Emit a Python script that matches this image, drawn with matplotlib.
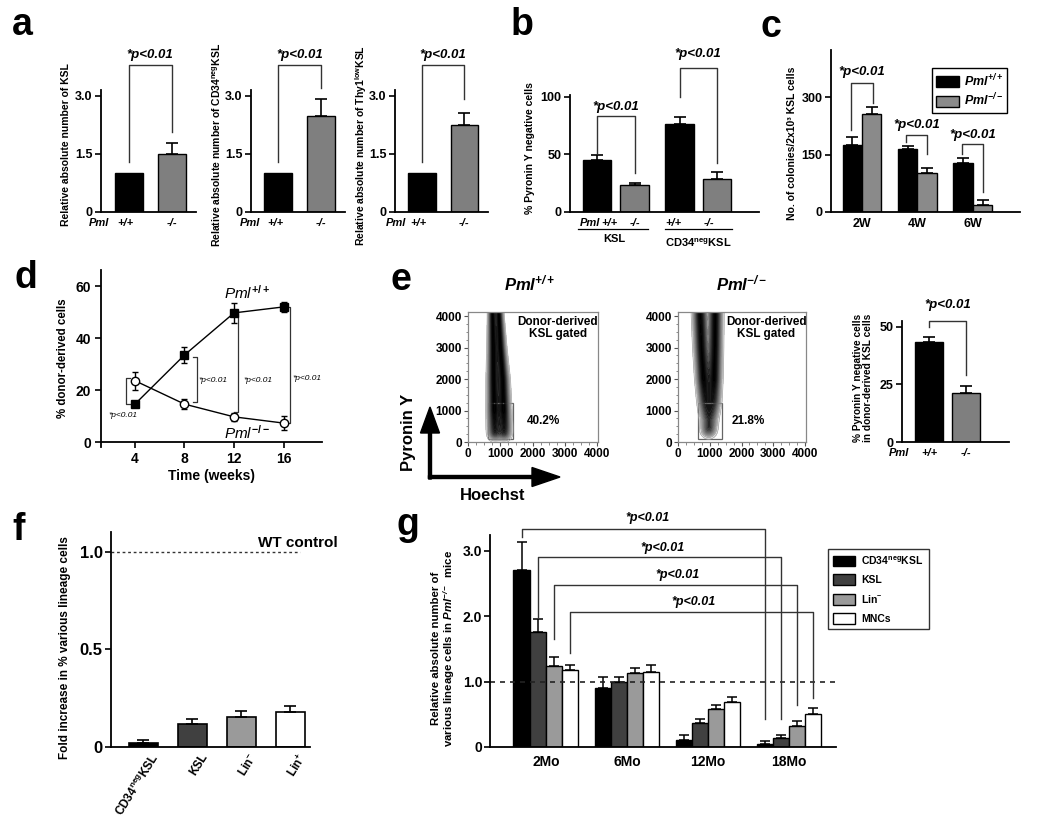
import numpy as np
import matplotlib.pyplot as plt
from matplotlib.patches import Patch, Rectangle, FancyArrow
from matplotlib.colors import LinearSegmentedColormap
from matplotlib.ticker import MultipleLocator

plt.rcParams['font.family'] = ['Liberation Sans', 'DejaVu Sans']
plt.rcParams['font.weight'] = 'bold'
plt.rcParams['mathtext.fontset'] = 'custom'
plt.rcParams['mathtext.rm'] = 'Liberation Sans:bold'
plt.rcParams['mathtext.it'] = 'Liberation Sans:italic:normal'
plt.rcParams['mathtext.bf'] = 'Liberation Sans:bold'
plt.rcParams['mathtext.bfit'] = 'Liberation Sans:italic:bold'
plt.rcParams['axes.linewidth'] = 1.3

# ---- data ----
# a
a_ylabels = ['Relative absolute number of KSL',
             r'Relative absolute number of CD34$^{\mathbf{neg}}$KSL',
             r'Relative absolute number of Thy1$^{\mathbf{low}}$KSL']
a_wt = [1.0, 1.0, 1.0]
a_ko = [1.5, 2.48, 2.25]
a_ko_err = [0.28, 0.45, 0.30]

# b
b_vals = [45.5, 23.5, 76.5, 29.0]
b_err = [3.7, 2.0, 6.5, 6.0]
b_groups = ['KSL', r'CD34$^{\mathbf{neg}}$KSL']

# c
c_weeks = ['2W', '4W', '6W']
c_wt = [176, 165, 128]
c_wt_err = [19, 7, 12]
c_ko = [256, 101, 19]
c_ko_err = [17, 15, 12]

# d
d_weeks = [4, 8, 12, 16]
d_wt = [14.6, 33.5, 49.7, 52.0]
d_wt_err = [1.0, 3.2, 3.9, 2.0]
d_ko = [23.6, 14.6, 9.7, 7.3]
d_ko_err = [3.4, 2.0, 1.5, 2.7]

# e (flow ridges: pyronin level, hoechst centre of the two dense streaks, spread)
wt_pyr = [150, 500, 1000, 2000, 3000, 4000, 4600]
wt_left = [830, 820, 810, 790, 780, 760, 750]
wt_right = [1130, 1130, 1110, 1080, 1010, 960, 940]
wt_sd = [120, 115, 110, 100, 85, 70, 65]
wt_amp = [0.75, 0.85, 1.0, 1.0, 1.0, 1.0, 1.0]
ko_pyr = [250, 700, 1300, 2000, 3000, 4000, 4600]
ko_left = [930, 900, 850, 800, 740, 700, 690]
ko_right = [1000, 1060, 1120, 1140, 1160, 1170, 1170]
ko_sd = [130, 120, 120, 120, 120, 120, 120]
ko_amp = [0.35, 0.4, 0.75, 1.0, 1.0, 1.0, 1.0]
e_gate = [620, 100, 1400, 1230]
e_pct = ['40.2%', '21.8%']
e_vals = [43.6, 21.2]
e_err = [2.2, 3.1]

# f
f_cats = [r'CD34$^{\mathbf{neg}}$KSL', 'KSL', r'Lin$^{\mathbf{-}}$', r'Lin$^{\mathbf{+}}$']
f_vals = [0.022, 0.12, 0.154, 0.178]
f_err = [0.014, 0.023, 0.031, 0.032]

# g
g_groups = ['2Mo', '6Mo', '12Mo', '18Mo']
g_series = [r'CD34$^{\mathbf{neg}}$KSL', 'KSL', r'Lin$^{\mathbf{-}}$', 'MNCs']
g_vals = [[2.70, 0.90, 0.11, 0.05],
          [1.75, 1.00, 0.37, 0.13],
          [1.24, 1.13, 0.58, 0.32],
          [1.18, 1.15, 0.69, 0.50]]
g_err = [[0.44, 0.17, 0.07, 0.04],
         [0.21, 0.07, 0.06, 0.06],
         [0.14, 0.08, 0.06, 0.07],
         [0.07, 0.10, 0.07, 0.09]]
g_colors = ['#000000', '#404040', '#9a9a9a', '#ffffff']

PV = '*p<0.01'

W, H = 1050, 822
fig = plt.figure(figsize=(W / 100, H / 100), dpi=100)


def box(x0, y0, x1, y1):
    return [x0 / W, 1 - y1 / H, (x1 - x0) / W, (y1 - y0) / H]


def bar_axes(rect, xlim, ylim, labelsize=9):
    ax = fig.add_axes(box(*rect))
    ax.set_xlim(*xlim)
    ax.set_ylim(*ylim)
    ax.spines[['top', 'right']].set_visible(False)
    ax.tick_params(axis='y', direction='out', length=4, width=1.2,
                   labelsize=labelsize, pad=2)
    ax.tick_params(axis='x', length=0)
    ax.set_xticks([])
    return ax


def ylabel_px(ax, text, x, y, size):
    ax.set_ylabel(text, fontsize=size, fontweight='bold', linespacing=1.1)
    ax.yaxis.label.set_va('center')
    ax.yaxis.set_label_coords(x / W, 1 - y / H, transform=fig.transFigure)


def under(ax, x, text, dy, size=8, style='italic'):
    ax.annotate(text, xy=(x, 0), xycoords=('data', 'axes fraction'),
                xytext=(0, -dy), textcoords='offset pixels', ha='center',
                va='center', fontsize=size, fontstyle=style, fontweight='bold')


def bracket(ax, x1, x2, y1, ytop, y2, ty, size=9.5):
    ax.plot([x1, x1, x2, x2], [y1, ytop, ytop, y2], color='#333333', lw=1.0,
            clip_on=False)
    ax.text((x1 + x2) / 2, ty, PV, ha='center', va='center', fontsize=size,
            fontstyle='italic', fontweight='bold', clip_on=False)


# ---- a ----
a_rects = [(101, 90, 196, 212), (251, 90, 345, 212), (395, 90, 488, 212)]
a_ylab_x = [66, 217, 361]
a_pml_x = [-0.68, -0.66, -0.62]
a_right_leg = [2.07, 3.2, 2.92]
for i in range(3):
    ax = bar_axes(a_rects[i], (-0.64, 1.56), (0, 3.15))
    ax.bar([0, 1], [a_wt[i], a_ko[i]], width=0.65, color=['black', '#7f7f7f'],
           edgecolor='black', lw=1)
    ax.errorbar([1], [a_ko[i]], yerr=[[0], [a_ko_err[i]]], fmt='none',
                ecolor='black', elinewidth=1.2, capsize=4.5, capthick=1.2)
    ax.set_yticks([0, 1.5, 3.0], ['0', '1.5', '3.0'])
    ylabel_px(ax, a_ylabels[i], a_ylab_x[i], 145, 7.5)
    under(ax, a_pml_x[i], 'Pml', 11)
    under(ax, -0.08, '+/+', 11)
    under(ax, 1.0, '-/-', 11)
    bracket(ax, 0, 1, 1.29, 3.80, a_right_leg[i], 4.06)

# ---- b ----
axb = bar_axes((570, 95, 759, 212), (-0.72, 4.32), (0, 101.7))
b_pos = [0, 1, 2.2, 3.2]
axb.bar(b_pos, b_vals, width=0.75, color=['black', '#7f7f7f'] * 2,
        edgecolor='black', lw=1)
axb.errorbar(b_pos, b_vals, yerr=[[0] * 4, b_err], fmt='none', ecolor='black',
             elinewidth=1.2, capsize=4.5, capthick=1.2)
axb.set_yticks([0, 50, 100], ['0', '50', '100'])
ylabel_px(axb, '% Pyronin Y negative cells', 530, 148, 7.5)
under(axb, -0.2, 'Pml', 11)
for x, t in [(0.33, '+/+'), (1.0, '-/-'), (2.05, '+/+'), (3.0, '-/-')]:
    under(axb, x, t, 11)
tr = axb.get_xaxis_transform()
axb.plot([-0.5, 1.35], [-0.145, -0.145], color='black', lw=0.9, transform=tr,
         clip_on=False)
axb.plot([1.8, 3.6], [-0.145, -0.145], color='black', lw=0.9, transform=tr,
         clip_on=False)
under(axb, 0.45, b_groups[0], 27, size=8, style='normal')
under(axb, 2.7, b_groups[1], 31, size=8, style='normal')
bracket(axb, 0, 1, 51, 83.5, 34, 91.5)
bracket(axb, 2.2, 3.2, 100, 125, 42.6, 137)

# ---- c ----
axc = bar_axes((831, 50, 1020, 212), (-0.56, 2.85), (0, 423))
cx = np.arange(len(c_weeks))
axc.bar(cx - 0.175, c_wt, width=0.35, color='black', edgecolor='black', lw=1)
axc.bar(cx + 0.175, c_ko, width=0.35, color='#8a8a8a', edgecolor='black', lw=1)
axc.errorbar(cx - 0.175, c_wt, yerr=[[0] * 3, c_wt_err], fmt='none',
             ecolor='black', elinewidth=1.2, capsize=4, capthick=1.2)
axc.errorbar(cx + 0.175, c_ko, yerr=[[0] * 3, c_ko_err], fmt='none',
             ecolor='black', elinewidth=1.2, capsize=4, capthick=1.2)
axc.set_yticks([0, 150, 300], ['0', '150', '300'])
axc.set_xticks(cx, c_weeks, fontsize=9, fontweight='bold')
axc.tick_params(axis='x', pad=4)
ylabel_px(axc, 'No. of colonies/2x10³ KSL cells', 792, 143, 7.5)
bracket(axc, -0.2, 0.2, 214, 337, 284, 365)
bracket(axc, 0.8, 1.18, 183, 201, 151, 228)
bracket(axc, 1.8, 2.18, 151, 177, 52, 202)
axc.legend(handles=[Patch(facecolor='black', edgecolor='black'),
                    Patch(facecolor='#8a8a8a', edgecolor='black')],
           labels=[r'$\mathbfit{Pml^{+/+}}$', r'$\mathbfit{Pml^{-/-}}$'],
           loc='upper left', bbox_to_anchor=(932 / W, 1 - 68 / H),
           bbox_transform=fig.transFigure, fontsize=9, frameon=True,
           fancybox=False, edgecolor='black', framealpha=1, borderpad=0.35,
           labelspacing=0.25, handlelength=1.8, handleheight=0.9,
           handletextpad=0.4, borderaxespad=0)

# ---- d ----
axd = fig.add_axes(box(101, 270, 322, 447))
axd.set_xlim(1.26, 19.1)
axd.set_ylim(-1.9, 66.2)
axd.spines[['top', 'right']].set_visible(False)
axd.spines['bottom'].set_position(('data', 0))
axd.set_xticks(d_weeks, [str(w) for w in d_weeks])
axd.set_yticks([0, 20, 40, 60])
axd.tick_params(direction='out', length=4, width=1.2, labelsize=10, pad=3)
axd.plot(d_weeks, d_wt, color='black', lw=1, marker='s', ms=6, mfc='black',
         mec='black', zorder=3)
axd.plot(d_weeks, d_ko, color='black', lw=1, marker='o', ms=6, mfc='white',
         mec='black', zorder=3)
axd.errorbar(d_weeks, d_wt, yerr=d_wt_err, fmt='none', ecolor='black',
             elinewidth=1, capsize=2.5, zorder=2)
axd.errorbar(d_weeks, d_ko, yerr=d_ko_err, fmt='none', ecolor='black',
             elinewidth=1, capsize=2.5, zorder=2)
axd.set_xlabel('Time (weeks)', fontsize=10, fontweight='bold', labelpad=2)
ylabel_px(axd, '% donor-derived cells', 63, 358, 8.3)
axd.text(13.03, 57.3, r'$\mathit{Pml^{+/+}}$', fontsize=11, ha='center',
         va='center')
axd.text(13.03, 3.5, r'$\mathit{Pml^{-/-}}$', fontsize=11, ha='center',
         va='center')
d_br = [(3.28, 3.6, 24.5, 14.6), (9.0, 8.7, 32.8, 15.5),
        (12.3, 12.0, 49.7, 11.4), (16.5, 16.18, 51.8, 7.4)]
for xb, xt, y1, y2 in d_br:
    axd.plot([xt, xb, xb, xt], [y1, y1, y2, y2], color='#333333', lw=0.9)
axd.text(3.03, 10.4, PV, fontsize=6, fontstyle='italic', fontweight='normal',
         ha='center', va='center')
for xl, yl in [(9.1, 23.8), (12.75, 23.8), (16.75, 24.5)]:
    axd.text(xl, yl, PV, fontsize=6, fontstyle='italic', fontweight='normal',
             ha='left', va='center')

# ---- e flow plots ----
fill_map = LinearSegmentedColormap.from_list('ff', ['#ededed', '#8a8a8a',
                                                    '#1a1a1a', '#050505'])
line_map = LinearSegmentedColormap.from_list('fl', ['#a8a8a8', '#000000'])


def flow(rect, pyr, left, right, sd, amp, pct):
    ax = fig.add_axes(box(*rect))
    hx = np.linspace(0, 4031, 260)
    py = np.linspace(0, 4127, 260)
    X, Y = np.meshgrid(hx, py)
    cl = np.interp(Y, pyr, left)
    cr = np.interp(Y, pyr, right)
    s = np.interp(Y, pyr, sd)
    a = np.interp(Y, pyr, amp)
    dens = a * (np.exp(-0.5 * ((X - cl) / s) ** 2) +
                np.exp(-0.5 * ((X - cr) / s) ** 2))
    dens *= 1 / (1 + np.exp(-(Y - pyr[0]) / 70))
    lv = np.linspace(0.06, 1.0, 16)
    ax.contourf(X, Y, dens, levels=lv, cmap=fill_map, extend='max')
    ax.contour(X, Y, dens, levels=lv, cmap=line_map, linewidths=0.5)
    ax.add_patch(Rectangle((e_gate[0], e_gate[1]), e_gate[2] - e_gate[0],
                           e_gate[3] - e_gate[1], fill=False,
                           edgecolor='#666666', lw=0.9))
    ax.set_xlim(0, 4031)
    ax.set_ylim(0, 4127)
    ticks = [0, 1000, 2000, 3000, 4000]
    ax.set_xticks(ticks, [str(t) for t in ticks])
    ax.set_yticks(ticks, [str(t) for t in ticks])
    ax.xaxis.set_minor_locator(MultipleLocator(250))
    ax.yaxis.set_minor_locator(MultipleLocator(250))
    ax.tick_params(direction='out', length=3, width=0.8, labelsize=8.5, pad=1.5,
                   colors='#555555', labelcolor='black')
    ax.tick_params(which='minor', direction='out', length=1.8, width=0.6,
                   colors='#777777')
    for sp in ax.spines.values():
        sp.set_color('#888888')
        sp.set_linewidth(0.9)
    ax.text(2780, 3620, 'Donor-derived\nKSL gated', ha='center', va='center',
            fontsize=8.5, linespacing=1.05)
    ax.text(pct[0], 660, pct[1], ha='center', va='center', fontsize=8.5)
    return ax


flow((468, 312, 598, 442), wt_pyr, wt_left, wt_right, wt_sd, wt_amp,
     (2330, e_pct[0]))
flow((678, 312, 806, 442), ko_pyr, ko_left, ko_right, ko_sd, ko_amp,
     (2220, e_pct[1]))

axe = bar_axes((902, 321, 1009, 442), (-0.73, 2.16), (0, 52.6))
axe.bar([0, 1], e_vals, width=0.76, color=['black', '#7f7f7f'],
        edgecolor='black', lw=1)
axe.errorbar([0, 1], e_vals, yerr=[[0, 0], e_err], fmt='none', ecolor='black',
             elinewidth=1.2, capsize=4.5, capthick=1.2)
axe.set_yticks([0, 25, 50], ['0', '25', '50'])
ylabel_px(axe, '% Pyronin Y negative cells\nin donor-derived KSL cells', 863,
          378, 7.3)
under(axe, -0.8, 'Pml', 11)
under(axe, 0.0, '+/+', 11)
under(axe, 1.0, '-/-', 11)
bracket(axe, 0, 1, 50, 52.6, 29, 59.6)

# ---- f ----
axf = bar_axes((111, 532, 310, 747), (-0.66, 3.40), (0, 1.10), labelsize=12)
fx = np.arange(len(f_cats))
axf.bar(fx, f_vals, width=0.58, color=g_colors, edgecolor='black', lw=1.2)
axf.errorbar(fx, f_vals, yerr=[[0] * 4, f_err], fmt='none', ecolor='black',
             elinewidth=1.2, capsize=4.5, capthick=1.2)
axf.set_yticks([0, 0.5, 1.0], ['0', '0.5', '1.0'])
axf.set_xticks(fx + 0.15, f_cats, rotation=58, ha='right',
               rotation_mode='anchor', fontsize=8.5, fontweight='bold')
axf.tick_params(axis='x', pad=3)
axf.plot([-0.66, 3.19], [1, 1], color='#333333', lw=1, ls=(0, (2, 2)))
axf.text(3.15, 1.046, 'WT control', ha='center', va='center', fontsize=11)
ylabel_px(axf, 'Fold increase in % various lineage cells', 65, 648, 8.5)

# ---- g ----
axg = bar_axes((490, 535, 836, 747), (-0.69, 3.58), (0, 3.24), labelsize=10)
axg.tick_params(axis='y', pad=1.5)
gx = np.arange(len(g_groups))
for i in range(4):
    off = (i - 1.5) * 0.2
    axg.bar(gx + off, g_vals[i], width=0.2, color=g_colors[i],
            edgecolor='black', lw=1, label=g_series[i])
    axg.errorbar(gx + off, g_vals[i], yerr=[[0] * 4, g_err[i]], fmt='none',
                 ecolor='black', elinewidth=1.1, capsize=3.5, capthick=1.1)
axg.set_yticks([0, 1.0, 2.0, 3.0], ['0', '1.0', '2.0', '3.0'])
axg.set_xticks(gx, g_groups, fontsize=10, fontweight='bold')
axg.tick_params(axis='x', pad=6)
axg.axhline(1.0, color='#222222', lw=1.2, ls=(0, (3, 3)))
ylabel_px(axg, 'Relative absolute number of\nvarious lineage cells in '
          r'$\mathbfit{Pml^{-/-}}$  mice', 444, 648, 8.2)
g_br = [(3.21, 3.33, 0.43, 3.50), (1.99, 2.91, 0.43, 3.04),
        (1.65, 2.48, 0.64, 2.63), (1.44, 2.06, 0.75, 2.22)]
for i, (yl, yt, yr, ty) in enumerate(g_br):
    off = (i - 1.5) * 0.2
    axg.plot([off, off, 3 + off, 3 + off], [yl, yt, yt, yr], color='#333333',
             lw=1, clip_on=False)
    axg.text(1.25 + 0.19 * i, ty, PV, ha='center', va='center', fontsize=9,
             fontstyle='italic', clip_on=False)
axg.legend(loc='upper left', bbox_to_anchor=(828 / W, 1 - 549 / H),
           bbox_transform=fig.transFigure, fontsize=7.5, frameon=True,
           fancybox=False, edgecolor='#333333', framealpha=1, borderpad=0.5,
           labelspacing=0.75, handlelength=2.1, handleheight=1.2,
           handletextpad=0.6, borderaxespad=0)

# ---- overlay: panel letters, titles, arrows ----
ov = fig.add_axes([0, 0, 1, 1])
ov.set_xlim(0, W)
ov.set_ylim(H, 0)
ov.axis('off')
for t, x, y in [('a', 22, 35), ('b', 522, 35), ('c', 771, 37), ('d', 26, 288),
                ('e', 401, 290), ('f', 19, 540), ('g', 408, 535)]:
    ov.text(x, y, t, fontsize=27, ha='center', va='baseline')
ov.text(530, 283, r'$\mathbfit{Pml^{+/+}}$', fontsize=12, ha='center',
        va='center')
ov.text(742, 283, r'$\mathbfit{Pml^{-/-}}$', fontsize=12, ha='center',
        va='center')
ov.add_patch(FancyArrow(430, 479, 0, -72, width=3, head_width=19,
                        head_length=26, length_includes_head=True,
                        color='black'))
ov.add_patch(FancyArrow(428.5, 477, 131.5, 0, width=3, head_width=19,
                        head_length=28, length_includes_head=True,
                        color='black'))
ov.text(408, 432, 'Pyronin Y', rotation=90, fontsize=12, ha='center',
        va='center')
ov.text(493, 495, 'Hoechst', fontsize=12, ha='center', va='center')

fig.savefig('out.png', dpi=100)
